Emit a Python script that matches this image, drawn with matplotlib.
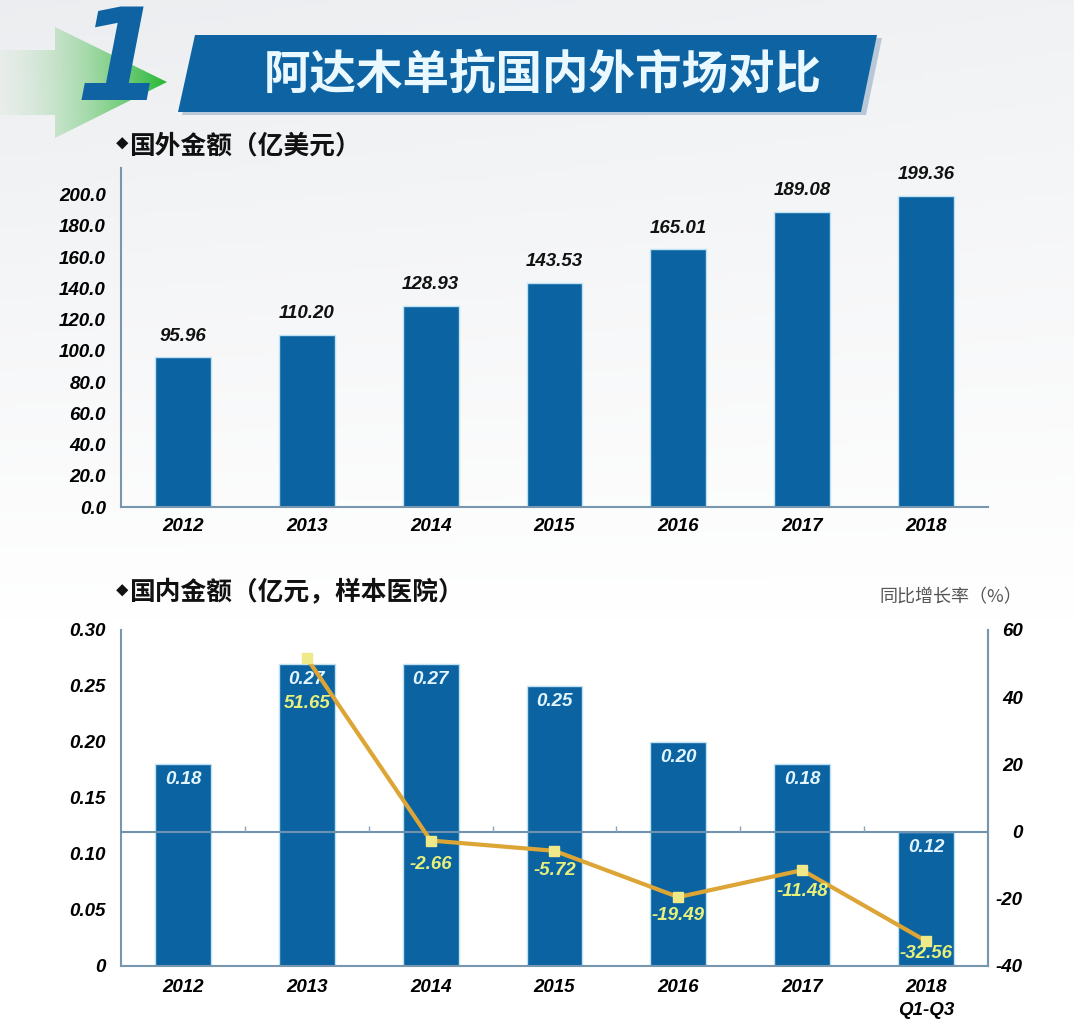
import numpy as np
import matplotlib
matplotlib.use("Agg")
import matplotlib.pyplot as plt
from matplotlib.patches import Polygon

# 数据
years = ["2012", "2013", "2014", "2015", "2016", "2017", "2018"]
years_cn = ["2012", "2013", "2014", "2015", "2016", "2017", "2018\nQ1-Q3"]
foreign_amount = [95.96, 110.20, 128.93, 143.53, 165.01, 189.08, 199.36]
domestic_amount = [0.18, 0.27, 0.27, 0.25, 0.20, 0.18, 0.12]
growth_years = ["2013", "2014", "2015", "2016", "2017", "2018"]
growth_rate = [51.65, -2.66, -5.72, -19.49, -11.48, -32.56]
foreign_ticks = [0, 20, 40, 60, 80, 100, 120, 140, 160, 180, 200]
domestic_ticks = [0, 0.05, 0.10, 0.15, 0.20, 0.25, 0.30]
domestic_tick_labels = ["0", "0.05", "0.10", "0.15", "0.20", "0.25", "0.30"]
growth_ticks = [-40, -20, 0, 20, 40, 60]

CJK = ["Noto Sans CJK SC", "DejaVu Sans"]
LAT = "Liberation Sans"
BAR = "#0B63A1"
SPINE = "#7896AE"
W, H = 1074, 1034

fig = plt.figure(figsize=(W / 100, H / 100), dpi=100)

# 背景层（像素坐标）
bg = fig.add_axes([0, 0, 1, 1], zorder=0)
bg.set_xlim(0, W)
bg.set_ylim(H, 0)
bg.axis("off")
yy, xx = np.mgrid[0:1:200j, 0:1:200j]
shade = np.clip(1 - yy / 0.6, 0, 1) * (0.75 + 0.25 * (1 - xx))
c_top = np.array([0.925, 0.932, 0.942])
img = 1 - shade[..., None] * (1 - c_top)
bg.imshow(img, extent=[0, W, H, 0], aspect="auto", zorder=0)

# 绿色箭头
arrow_pts = [(0, 50), (55, 50), (55, 27), (167, 82), (55, 138), (55, 115), (0, 115)]
arrow = Polygon(arrow_pts, closed=True, facecolor="none", edgecolor="none")
bg.add_patch(arrow)
g = np.linspace(0, 1, 256)[None, :]
green = np.zeros((1, 256, 4))
green[..., 0] = 0.85 - 0.70 * g
green[..., 1] = 0.90 - 0.18 * g
green[..., 2] = 0.85 - 0.65 * g
green[..., 3] = 0.25 + 0.75 * g
gi = bg.imshow(green, extent=[0, 167, 138, 27], aspect="auto", zorder=1)
gi.set_clip_path(arrow)

# 标题横幅
bg.add_patch(Polygon([(199, 38), (882, 38), (866, 115), (182, 115)], closed=True,
                     facecolor="#B8C8D8", edgecolor="none", zorder=1))
bg.add_patch(Polygon([(195, 35), (877, 35), (861, 112), (178, 112)], closed=True,
                     facecolor="#0E64A3", edgecolor="none", zorder=2))
bg.text(543, 75, "阿达木单抗国内外市场对比", family=CJK, fontsize=33.5, fontweight="bold",
        color="#EAF8FF", ha="center", va="center", zorder=3)
bg.text(120, 100, "1", family="DejaVu Sans", fontsize=92, fontweight="bold", style="italic",
        color="#0F63A3", ha="center", va="baseline", zorder=3)

bg.text(116, 145, "◆", family=CJK, fontsize=9, color="#111111", ha="left", va="center")
bg.text(129, 146, "国外金额（亿美元）", family=CJK, fontsize=18.5, fontweight="bold",
        color="#111111", ha="left", va="center")
bg.text(116, 592, "◆", family=CJK, fontsize=9, color="#111111", ha="left", va="center")
bg.text(129, 593, "国内金额（亿元，样本医院）", family=CJK, fontsize=18.5, fontweight="bold",
        color="#111111", ha="left", va="center")
bg.text(1022, 597, "同比增长率（%）", family=CJK, fontsize=13, color="#555555",
        ha="right", va="center")

tick_font = dict(family=LAT, fontsize=13.5, fontweight="bold", style="italic")

# 上图：国外金额
ax1 = fig.add_axes([121 / W, 1 - 507 / H, 867 / W, 339 / H], zorder=2)
ax1.patch.set_alpha(0)
x = np.arange(len(years))
bars1 = ax1.bar(x, foreign_amount, width=0.45, color=BAR, edgecolor="#BFE3F2", linewidth=1)
ax1.set_xlim(-0.5, 6.5)
ax1.set_ylim(0, 217)
ax1.set_yticks(foreign_ticks)
ax1.set_yticklabels([f"{t:.1f}" for t in foreign_ticks], **tick_font)
ax1.set_xticks(x)
ax1.set_xticklabels(years, **tick_font)
ax1.tick_params(axis="y", length=0, pad=11)
ax1.tick_params(axis="x", length=0, pad=8)
for s in ["top", "right"]:
    ax1.spines[s].set_visible(False)
for s in ["left", "bottom"]:
    ax1.spines[s].set_color(SPINE)
    ax1.spines[s].set_linewidth(1.5)
for b, v in zip(bars1, foreign_amount):
    ax1.annotate(f"{v:.2f}", (b.get_x() + b.get_width() / 2, v), xytext=(0, 9),
                 textcoords="offset points", ha="center", va="bottom", color="#111111",
                 **tick_font)

# 下图：国内金额 + 同比增长率
ax2 = fig.add_axes([121 / W, 1 - 966 / H, 867 / W, 336 / H], zorder=2)
ax2.patch.set_alpha(0)
bars2 = ax2.bar(x, domestic_amount, width=0.45, color=BAR, edgecolor="#BFE3F2",
                linewidth=1, zorder=2)
ax2.set_xlim(-0.5, 6.5)
ax2.set_ylim(0, 0.30)
ax2.set_yticks(domestic_ticks)
ax2.set_yticklabels(domestic_tick_labels, **tick_font)
ax2.set_xticks(x)
ax2.set_xticklabels(years_cn, linespacing=1.5, **tick_font)
ax2.tick_params(axis="y", length=0, pad=11)
ax2.tick_params(axis="x", length=0, pad=9)
ax2.spines["top"].set_visible(False)
for s in ["left", "bottom", "right"]:
    ax2.spines[s].set_color(SPINE)
    ax2.spines[s].set_linewidth(1.5)
for b, v in zip(bars2, domestic_amount):
    ax2.annotate(f"{v:.2f}", (b.get_x() + b.get_width() / 2, v), xytext=(0, -5),
                 textcoords="offset points", ha="center", va="top", color="#E2F5FF",
                 zorder=3, **tick_font)

ax3 = ax2.twinx()
ax3.set_ylim(-40, 60)
ax3.set_yticks(growth_ticks)
ax3.set_yticklabels([str(t) for t in growth_ticks], ha="right", **tick_font)
ax3.tick_params(axis="y", length=0, pad=25)
for s in ["top", "left", "bottom"]:
    ax3.spines[s].set_visible(False)
ax3.spines["right"].set_color(SPINE)
ax3.spines["right"].set_linewidth(1.5)
ax3.axhline(0, color="#6E92B0", linewidth=1.5, zorder=1)
ax3.vlines(np.arange(0.5, 6.5, 1.0), 0, 1.6, color="#8AA4BA", linewidth=1)

gx = [years.index(y) for y in growth_years]
ax3.plot(gx, growth_rate, color="#DDA535", linewidth=3, zorder=4,
         marker="s", markersize=7, markerfacecolor="#EFE98A", markeredgecolor="#EFE98A")
label_offsets = [-33, -17, -14, -13, -15, -9]
for xi, v, off in zip(gx, growth_rate, label_offsets):
    ax3.annotate(f"{v:.2f}", (xi, v), xytext=(0, off), textcoords="offset points",
                 ha="center", va="center", color="#E8F07C", zorder=5, **tick_font)

fig.savefig("out.png", dpi=100)
